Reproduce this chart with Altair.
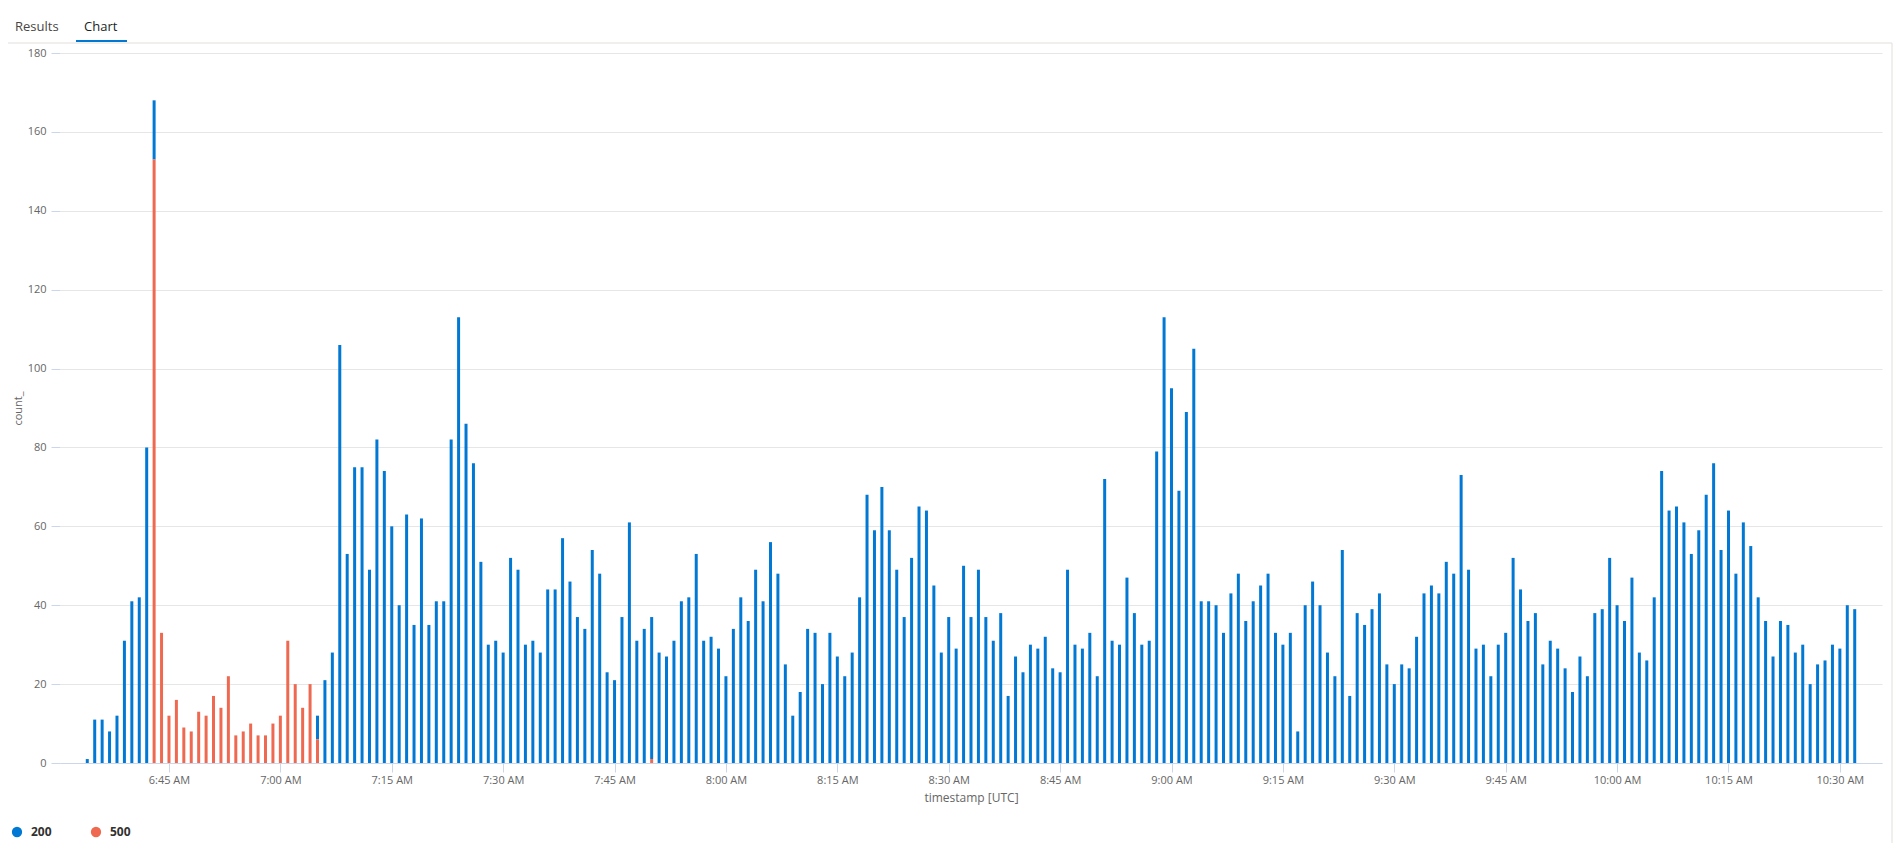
import altair as alt
import pandas as pd

# ---- data (1-minute bins, 06:34 .. 10:32) ----
start_time = "2024-01-01T06:34:00"

counts_200 = [
    1, 11, 11, 8, 12, 31, 41, 42, 80, 15,                     # 06:34-06:43
    0, 0, 0, 0, 0, 0, 0, 0, 0, 0, 0, 0, 0, 0, 0, 0, 0, 0, 0, 0, 0,  # 06:44-07:04
    6, 21, 28, 106, 53, 75, 75, 49, 82, 74,                   # 07:05-07:14
    60, 40, 63, 35, 62, 35, 41, 41, 82, 113,                  # 07:15-07:24
    86, 76, 51, 30, 31, 28, 52, 49, 30, 31,                   # 07:25-07:34
    28, 44, 44, 57, 46, 37, 34, 54, 48, 23,                   # 07:35-07:44
    21, 37, 61, 31, 34, 36, 28, 27, 31, 41,                   # 07:45-07:54
    42, 53, 31, 32, 29, 22, 34, 42, 36, 49,                   # 07:55-08:04
    41, 56, 48, 25, 12, 18, 34, 33, 20, 33,                   # 08:05-08:14
    27, 22, 28, 42, 68, 59, 70, 59, 49, 37,                   # 08:15-08:24
    52, 65, 64, 45, 28, 37, 29, 50, 37, 49,                   # 08:25-08:34
    37, 31, 38, 17, 27, 23, 30, 29, 32, 24,                   # 08:35-08:44
    23, 49, 30, 29, 33, 22, 72, 31, 30, 47,                   # 08:45-08:54
    38, 30, 31, 79, 113, 95, 69, 89, 105, 41,                 # 08:55-09:04
    41, 40, 33, 43, 48, 36, 41, 45, 48, 33,                   # 09:05-09:14
    30, 33, 8, 40, 46, 40, 28, 22, 54, 17,                    # 09:15-09:24
    38, 35, 39, 43, 25, 20, 25, 24, 32, 43,                   # 09:25-09:34
    45, 43, 51, 48, 73, 49, 29, 30, 22, 30,                   # 09:35-09:44
    33, 52, 44, 36, 38, 25, 31, 29, 24, 18,                   # 09:45-09:54
    27, 22, 38, 39, 52, 40, 36, 47, 28, 26,                   # 09:55-10:04
    42, 74, 64, 65, 61, 53, 59, 68, 76, 54,                   # 10:05-10:14
    64, 48, 61, 55, 42, 36, 27, 36, 35, 28,                   # 10:15-10:24
    30, 20, 25, 26, 30, 29, 40, 39,                           # 10:25-10:32
]

times_500 = [
    "06:43", "06:44", "06:45", "06:46", "06:47", "06:48", "06:49", "06:50",
    "06:51", "06:52", "06:53", "06:54", "06:55", "06:56", "06:57", "06:58",
    "06:59", "07:00", "07:01", "07:02", "07:03", "07:04", "07:05", "07:50",
]
counts_500 = [
    153, 33, 12, 16, 9, 8, 13, 12,
    17, 14, 22, 7, 8, 10, 7, 7,
    10, 12, 31, 20, 14, 20, 6, 1,
]

x_tick_times = [(6, 45), (7, 0), (7, 15), (7, 30), (7, 45), (8, 0), (8, 15),
                (8, 30), (8, 45), (9, 0), (9, 15), (9, 30), (9, 45), (10, 0),
                (10, 15), (10, 30)]
status_domain = ["200", "500"]
status_colors = ["#0078d4", "#ef6950"]
y_ticks = [0, 20, 40, 60, 80, 100, 120, 140, 160, 180]

# ---- long table ----
minutes = pd.date_range(start_time, periods=len(counts_200), freq="min")
rows = []
for t, c in zip(minutes, counts_200):
    if c > 0:
        rows.append({"timestamp": t.strftime("%Y-%m-%dT%H:%M:%S"),
                     "status": "200", "count_": c, "ord": 1})
for hm, c in zip(times_500, counts_500):
    rows.append({"timestamp": f"2024-01-01T{hm}:00",
                 "status": "500", "count_": c, "ord": 0})
df = pd.DataFrame(rows)


def dt(h, m):
    return alt.DateTime(year=2024, month=1, date=1, hours=h, minutes=m)


FONT = "Open Sans"

bars = alt.Chart(df).mark_bar(size=3).encode(
    x=alt.X(
        "timestamp:T",
        title="timestamp [UTC]",
        scale=alt.Scale(domain=[dt(6, 31), dt(10, 35)], nice=False),
        axis=alt.Axis(
            format="%-I:%M %p",
            values=[dt(h, m) for h, m in x_tick_times],
            grid=False,
            domainColor="#ccd6eb",
            tickColor="#ccd6eb",
            tickSize=9,
            labelColor="#666666",
            labelFontSize=11,
            labelPadding=2,
            labelFlush=False,
            titleColor="#666666",
            titleFontSize=12,
            titleFontWeight="normal",
            titlePadding=7,
        ),
    ),
    y=alt.Y(
        "count_:Q",
        title="count_",
        stack="zero",
        scale=alt.Scale(domain=[0, 180], nice=False),
        axis=alt.Axis(
            values=y_ticks,
            gridColor="#e6e6e6",
            domain=False,
            tickColor="#ccd6eb",
            tickSize=9,
            labelColor="#666666",
            labelFontSize=11,
            labelPadding=5,
            titleColor="#666666",
            titleFontSize=11,
            titleFontWeight="normal",
            titlePadding=4,
        ),
    ),
    color=alt.Color(
        "status:N",
        scale=alt.Scale(domain=status_domain, range=status_colors),
        legend=alt.Legend(
            title=None,
            orient="none",
            legendX=-49,
            legendY=773,
            direction="horizontal",
            symbolType="circle",
            symbolSize=106,
            labelFontSize=12,
            labelFontWeight="bold",
            labelColor="#323130",
            labelOffset=8,
            columnPadding=38,
        ),
    ),
    order=alt.Order("ord:Q"),
)

one = pd.DataFrame({"a": [0]})

tab_results = alt.Chart(pd.DataFrame({"t": ["Results"]})).mark_text(
    align="left", baseline="alphabetic", fontSize=13, color="#484644"
).encode(text="t:N", x=alt.value(-45), y=alt.value(-22))

tab_chart = alt.Chart(pd.DataFrame({"t": ["Chart"]})).mark_text(
    align="left", baseline="alphabetic", fontSize=13, color="#201f1e"
).encode(text="t:N", x=alt.value(24), y=alt.value(-22))

separator = alt.Chart(one).mark_rule(color="#e1dfdd", strokeWidth=1).encode(
    x=alt.value(-52), x2=alt.value(1832), y=alt.value(-10)
)

underline = alt.Chart(one).mark_rule(color="#0078d4", strokeWidth=2).encode(
    x=alt.value(16), x2=alt.value(67), y=alt.value(-12)
)

right_border = alt.Chart(one).mark_rule(color="#e1dfdd", strokeWidth=1).encode(
    x=alt.value(1832), y=alt.value(-10), y2=alt.value(790)
)

chart = alt.layer(
    bars, separator, underline, tab_results, tab_chart, right_border
).properties(
    width=1822,
    height=710,
    padding={"left": 52, "top": 45, "right": 12, "bottom": 80},
    autosize=alt.AutoSizeParams(type="none"),
).configure(
    font=FONT
).configure_view(
    stroke=None
)

chart.save("out.html", embed_options={"renderer": "svg", "actions": False})
